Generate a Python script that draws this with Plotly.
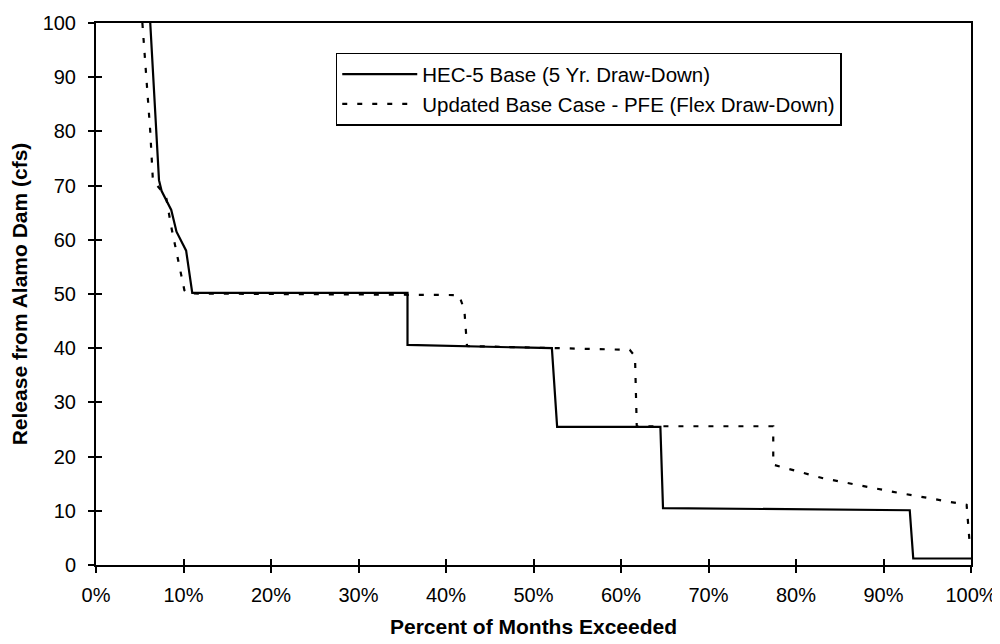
import plotly.graph_objects as go

# Percent of months exceeded (%) and release (cfs)
hec5_x = [6.2, 6.9, 7.2, 7.5, 8.6, 9.2, 10.3, 11.0, 35.6, 35.6, 52.1, 52.7, 64.5, 64.8, 93.0, 93.4, 100.0]
hec5_y = [100, 80, 71, 69, 65.5, 61.5, 58, 50.2, 50.2, 40.6, 40.0, 25.5, 25.5, 10.5, 10.1, 1.2, 1.2]

pfe_x = [5.3, 6.2, 6.5, 8.0, 8.6, 10.1, 10.4, 41.5, 42.1, 42.4, 42.4, 61.0, 61.6, 61.8, 77.4, 77.4, 83.1, 91.1, 99.5, 99.9]
pfe_y = [100, 80, 71, 68, 62.4, 50.7, 50.1, 49.8, 47.0, 41.2, 40.4, 39.7, 38.5, 25.6, 25.6, 18.5, 16.0, 13.5, 11.1, 3.0]

x_ticks = [0, 10, 20, 30, 40, 50, 60, 70, 80, 90, 100]
y_ticks = [0, 10, 20, 30, 40, 50, 60, 70, 80, 90, 100]

font_family = "Liberation Sans, Arial, sans-serif"

fig = go.Figure()
fig.add_trace(go.Scatter(x=hec5_x, y=hec5_y, mode="lines",
                         name="HEC-5 Base (5 Yr. Draw-Down)",
                         line=dict(color="black", width=2.2)))
fig.add_trace(go.Scatter(x=pfe_x, y=pfe_y, mode="lines",
                         name="Updated Base Case - PFE (Flex Draw-Down)",
                         line=dict(color="black", width=2.2, dash="5px,10px")))
# helper trace for inner tick marks
fig.add_trace(go.Scatter(x=[None], y=[None], xaxis="x2", yaxis="y2",
                         showlegend=False, hoverinfo="skip"))

axis_common = dict(showgrid=False, zeroline=False, linecolor="black", linewidth=2,
                   tickcolor="black", tickwidth=1.5, ticklen=6, automargin=False,
                   tickfont=dict(size=20))

fig.update_layout(
    width=992, height=636,
    paper_bgcolor="white", plot_bgcolor="white",
    margin=dict(l=88, r=29, t=15, b=79),
    font=dict(family=font_family, size=20, color="black"),
    xaxis=dict(range=[0, 100], tickvals=x_ticks, ticktext=[f"{v}%" for v in x_ticks],
               ticks="outside", showline=True, mirror=True, ticklabelstandoff=5,
               title=dict(text="<b>Percent of Months Exceeded</b>", standoff=14,
                          font=dict(size=21)),
               **axis_common),
    yaxis=dict(range=[0, 100], tickvals=y_ticks, ticks="outside", showline=True, mirror=True,
               ticklabelstandoff=8,
               title=dict(text="<b>Release from Alamo Dam (cfs)</b>", standoff=9,
                          font=dict(size=21)),
               **axis_common),
    xaxis2=dict(range=[0, 100], tickvals=x_ticks, ticks="inside", showticklabels=False,
                overlaying="x", anchor="y", showline=False, showgrid=False, zeroline=False,
                tickcolor="black", tickwidth=1.5, ticklen=6),
    yaxis2=dict(range=[0, 100], tickvals=y_ticks, ticks="inside", showticklabels=False,
                overlaying="y", anchor="x", showline=False, showgrid=False, zeroline=False,
                tickcolor="black", tickwidth=1.5, ticklen=6),
    legend=dict(x=0.274, y=0.945, xanchor="left", yanchor="top",
                bgcolor="white", bordercolor="black", borderwidth=1.5,
                font=dict(size=20.5), tracegroupgap=0, itemwidth=75),
    showlegend=True,
)

fig.write_html("out.html")
